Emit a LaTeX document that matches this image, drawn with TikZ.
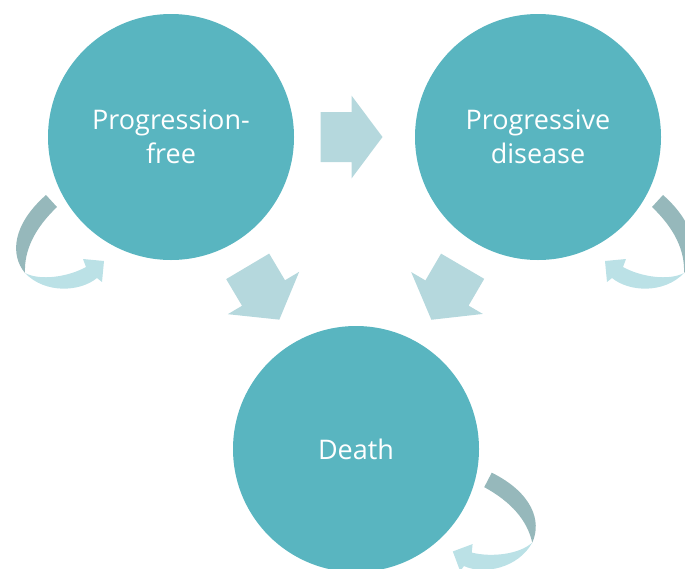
\documentclass[tikz,border=0pt]{standalone}
\usepackage{fontspec}
\setmainfont{Open Sans}
\usetikzlibrary{calc}
\definecolor{circ}{RGB}{89,181,192}
\definecolor{blk}{RGB}{181,216,221}
\definecolor{bandDark}{RGB}{150,184,187}
\definecolor{bandLight}{RGB}{187,225,230}
\tikzset{
  state/.style={circle, fill=circ, minimum size=246pt, inner sep=0pt, text=white,
    font=\fontsize{27}{34}\selectfont, align=center},
  blockarrow/.pic={
    \fill[blk] (-31,-25) -- (0,-25) -- (0,-41.5) -- (31,0) -- (0,41.5) -- (0,25) -- (-31,25) -- cycle;
  }
}
\newcommand{\drawselfloop}{%
  \fill[bandDark] (-125,58) -- (-114,70) .. controls (-136,91) and (-147,113) .. (-146,136)
    .. controls (-161,118) and (-159,88) .. (-125,58) -- cycle;
  \fill[bandLight] (-146,136) .. controls (-131,144) and (-103,140) .. (-85,130)
    -- (-88,122) -- (-67,124) -- (-69,145) -- (-74,141)
    .. controls (-91,155) and (-126,157) .. (-146,136) -- cycle;
}
\begin{document}
\begin{tikzpicture}[x=1pt,y=-1pt]
\useasboundingbox (0,0) rectangle (685,568);
\clip (0,0) rectangle (685,568);
\node[state] (pf) at (171,137) {Progression-\\free};
\node[state] (pd) at (538,137) {Progressive\\disease};
\node[state] (d) at (356,449) {Death};
\pic at ($(pf)!0.5!(pd)+(-3,0)$) {blockarrow};
\pic[rotate=-59.3] at ($(pf)!0.5!(d)$) {blockarrow};
\pic[rotate=-120.3] at ($(pd)!0.5!(d)$) {blockarrow};
\begin{scope}[shift={(pf)}]
  \drawselfloop
\end{scope}
\begin{scope}[shift={(pd)}, xscale=-1]
  \drawselfloop
\end{scope}
\begin{scope}[shift={(d)}, rotate=15, xscale=-1]
  \drawselfloop
\end{scope}
\end{tikzpicture}
\end{document}
